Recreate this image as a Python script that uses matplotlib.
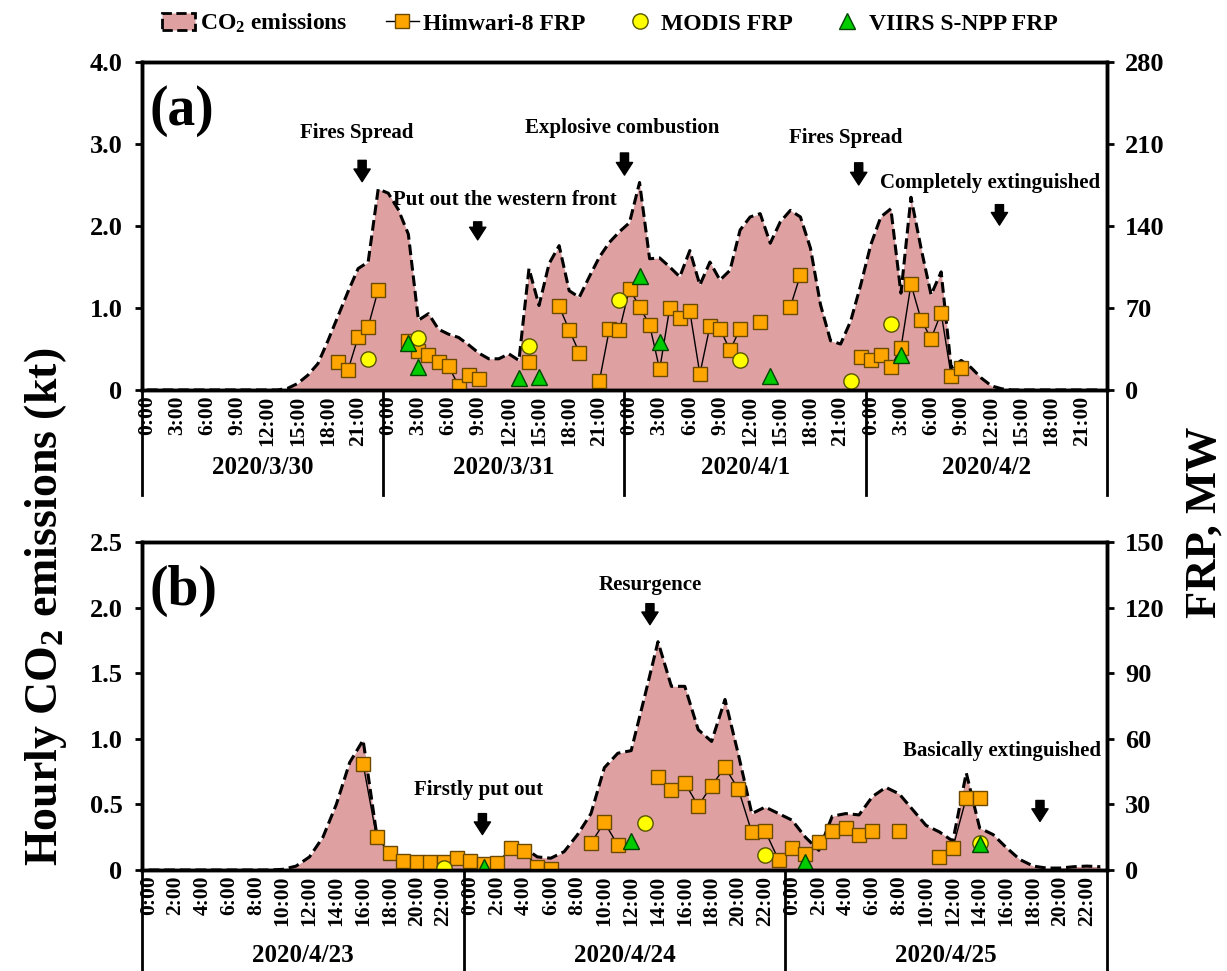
import numpy as np
import matplotlib.pyplot as plt
import matplotlib.transforms as mtransforms
from matplotlib.lines import Line2D
from matplotlib.patches import Patch

plt.rcParams['font.family'] = ['Liberation Serif', 'DejaVu Serif']
plt.rcParams['font.weight'] = 'bold'
plt.rcParams['mathtext.fontset'] = 'custom'
plt.rcParams['mathtext.rm'] = 'Liberation Serif:bold'
plt.rcParams['mathtext.bf'] = 'Liberation Serif:bold'
plt.rcParams['mathtext.default'] = 'bf'

# ---- panel (a): 2020/3/30 - 2020/4/2, hourly ----
dates_a = ['2020/3/30', '2020/3/31', '2020/4/1', '2020/4/2']
co2_a = [0, 0, 0, 0, 0, 0, 0, 0, 0, 0, 0, 0, 0, 0,
         0.02, 0.08, 0.18, 0.32, 0.6, 0.9, 1.2, 1.48, 1.56, 2.45,
         2.4, 2.2, 1.9, 0.85, 0.93, 0.74, 0.68, 0.64, 0.55, 0.45, 0.38, 0.38,
         0.44, 0.36, 1.48, 1.03, 1.54, 1.76, 1.21, 1.13, 1.38, 1.62, 1.8, 1.93,
         2.04, 2.53, 1.6, 1.61, 1.5, 1.38, 1.7, 1.28, 1.56, 1.34, 1.46, 1.95,
         2.11, 2.15, 1.79, 2.05, 2.19, 2.11, 1.73, 1.04, 0.6, 0.56, 0.84, 1.28,
         1.77, 2.11, 2.21, 1.18, 2.35, 1.73, 1.16, 1.44, 0.27, 0.36, 0.27, 0.145,
         0.05, 0.015, 0, 0, 0, 0, 0, 0, 0, 0, 0, 0]
him_a_hour = [19, 20, 21, 22, 23,
              26, 27, 28, 29, 30, 31, 32, 33,
              38,
              41, 42, 43,
              45, 46, 47, 48, 49, 50, 51, 52, 53, 54, 55, 56, 57, 58, 59,
              61,
              64, 65,
              71, 72, 73, 74, 75, 76, 77, 78, 79, 80, 81]
him_a_frp = [23.6, 17.1, 45, 54, 85.4,
             42.1, 33.6, 30.2, 24, 20.2, 3.7, 12.8, 9.4,
             23.6,
             71.4, 51.2, 31.9,
             7.4, 52, 51, 86.5, 71, 55.5, 17.5, 70, 61, 67.2, 13.6, 54.5, 52.2, 33.9, 52.2,
             57.6,
             70.9, 98.2,
             28.2, 25.4, 29.6, 19.8, 35.6, 90.3, 60.1, 43.8, 65.8, 12.1, 18.6]
modis_a_hour = [22, 27, 38, 47, 59, 70, 74]
modis_a_frp = [26.8, 44.5, 37.8, 77, 25.5, 7.5, 56]
viirs_a_hour = [26, 27, 37, 39, 49, 51, 62, 75]
viirs_a_frp = [40.5, 19.5, 9.8, 11.4, 97.5, 41, 11.6, 29.8]
notes_a = [('Fires Spread', 21.4, 3.13, 21.9, 2.8, 2.54),
           ('Put out the western front', 36.1, 2.32, 33.4, 2.05, 1.83),
           ('Explosive combustion', 47.8, 3.2, 48.0, 2.89, 2.62),
           ('Fires Spread', 70.0, 3.07, 71.3, 2.77, 2.5),
           ('Completely extinguished', 84.4, 2.52, 85.3, 2.26, 2.01)]

# ---- panel (b): 2020/4/23 - 2020/4/25, hourly ----
dates_b = ['2020/4/23', '2020/4/24', '2020/4/25']
co2_b = [0, 0, 0, 0, 0, 0, 0, 0, 0, 0,
         0.005, 0.03, 0.1, 0.25, 0.5, 0.82, 0.99, 0.28, 0.13, 0.09, 0.08, 0.08,
         0.08, 0.08, 0.07, 0.06, 0.07, 0.15, 0.17, 0.1, 0.09, 0.14, 0.27, 0.43,
         0.78, 0.89, 0.91, 1.32, 1.74, 1.4, 1.4, 1.07, 0.98, 1.3, 0.88, 0.43,
         0.48, 0.43, 0.38, 0.25, 0.15, 0.41, 0.43, 0.42, 0.56, 0.63, 0.58, 0.46,
         0.34, 0.29, 0.22, 0.74, 0.32, 0.27, 0.17, 0.08, 0.03, 0.015, 0.015,
         0.025, 0.03, 0.025]
him_b_hour = [16, 17, 18, 19, 20, 21, 22, 23, 24, 25, 26, 27, 28, 29, 30,
              33, 34, 35,
              38, 39, 40, 41, 42, 43, 44, 45, 46, 47, 48, 49, 50, 51, 52, 53, 54,
              56,
              59, 60, 61, 62]
him_b_frp = [48.5, 15.2, 7.6, 4.2, 3.6, 3.6, 3.8, 5.5, 4.0, 2.6, 3.0, 9.9, 8.8, 1.2, 0.5,
             12.3, 21.8, 11.4,
             42.7, 36.6, 39.9, 29.3, 38.6, 47, 36.9, 17.2, 17.8, 4.6, 10.2, 7.2, 12.9, 18, 19, 16, 18,
             18,
             6.0, 10.2, 33, 33]
modis_b_hour = [22, 37, 46, 62]
modis_b_frp = [1.0, 21.3, 6.9, 12.2]
viirs_b_hour = [25, 36, 49, 62]
viirs_b_frp = [1.5, 13.4, 3.8, 12.0]
notes_b = [('Firstly put out', 25.1, 0.61, 25.4, 0.43, 0.27),
           ('Resurgence', 37.9, 2.17, 37.9, 2.03, 1.87),
           ('Basically extinguished', 64.2, 0.91, 67.0, 0.53, 0.37)]

PINK = '#DFA0A2'
ORANGE = '#FFA500'
YELLOW = '#FFFF00'
GREEN = '#00CC00'


def sparse(n, hours, vals):
    arr = np.full(n, np.nan)
    arr[hours] = vals
    return arr


def draw_panel(ax, co2, dates, him_h, him_v, mod_h, mod_v, vii_h, vii_v,
               ymax, ystep, ylabels, frpmax, frpstep, hstep, notes, tag,
               sep_bottom, date_y):
    n = len(co2)
    x = np.arange(n) + 0.5
    ax.fill_between(x, co2, 0, color=PINK, lw=0)
    ax.plot(x, co2, color='k', lw=2.2, ls=(0, (3.5, 1.6)))
    ax.set_xlim(0, n)
    ax.set_ylim(0, ymax)
    ax.set_yticks(np.arange(0, ymax + 1e-9, ystep))
    ax.set_yticklabels(ylabels)

    ax2 = ax.twinx()
    ax2.plot(x, sparse(n, him_h, him_v), color='k', lw=1, marker='s', ms=10,
             mfc=ORANGE, mec='#6B4A00', mew=1)
    ax2.plot(x, sparse(n, mod_h, mod_v), ls='none', marker='o', ms=11,
             mfc=YELLOW, mec='#555500', mew=1)
    ax2.plot(x, sparse(n, vii_h, vii_v), ls='none', marker='^', ms=11,
             mfc=GREEN, mec='#004400', mew=1)
    ax2.set_ylim(0, frpmax)
    ax2.set_yticks(np.arange(0, frpmax + 1, frpstep))

    ticks = [d * 24 + h + 0.5 for d in range(len(dates)) for h in range(0, 24, hstep)]
    labs = ['%d:00' % h for d in range(len(dates)) for h in range(0, 24, hstep)]
    ax.set_xticks(ticks)
    ax.set_xticklabels(labs, rotation=90, fontsize=15.5)
    ax.tick_params(axis='x', length=0, pad=4)
    ax.tick_params(axis='y', direction='out', length=5, width=2, labelsize=19, pad=9)
    ax2.tick_params(axis='y', direction='out', length=5, width=2, labelsize=19, pad=8)
    for a in (ax, ax2):
        for s in a.spines.values():
            s.set_linewidth(2.5)

    trans = mtransforms.blended_transform_factory(ax.transData, ax.transAxes)
    for d in range(len(dates) + 1):
        ax.plot([24 * d, 24 * d], [0, sep_bottom], color='k', lw=2,
                transform=trans, clip_on=False)
    for d, lab in enumerate(dates):
        ax.text(24 * d + 12, date_y, lab, transform=trans, ha='center',
                va='center', fontsize=18)

    for text, tx, ty, axx, tail, tip in notes:
        ax.text(tx, ty, text, ha='center', va='center', fontsize=15)
        ax.annotate('', xy=(axx, tip), xytext=(axx, tail),
                    arrowprops=dict(arrowstyle='simple,head_length=0.7,head_width=0.9,tail_width=0.45',
                                    fc='k', ec='k', shrinkA=0, shrinkB=0, mutation_scale=13))
    ax.text(0.008, 0.85, tag, transform=ax.transAxes, ha='left', va='center', fontsize=40)
    return ax2


fig = plt.figure(figsize=(12.27, 9.71), dpi=100)
ax_a = fig.add_axes([0.1157, 0.5984, 0.7865, 0.3378])
ax_b = fig.add_axes([0.1157, 0.1040, 0.7865, 0.3378])

draw_panel(ax_a, co2_a, dates_a, him_a_hour, him_a_frp, modis_a_hour, modis_a_frp,
           viirs_a_hour, viirs_a_frp, 4.0, 1.0, ['0', '1.0', '2.0', '3.0', '4.0'],
           280, 70, 3, notes_a, '(a)', -0.32, -0.235)
draw_panel(ax_b, co2_b, dates_b, him_b_hour, him_b_frp, modis_b_hour, modis_b_frp,
           viirs_b_hour, viirs_b_frp, 2.5, 0.5, ['0', '0.5', '1.0', '1.5', '2.0', '2.5'],
           150, 30, 2, notes_b, '(b)', -0.32, -0.262)

handles = [Patch(facecolor=PINK, edgecolor='k', linestyle='--', linewidth=2),
           Line2D([0], [0], color='k', lw=1, marker='s', ms=10, mfc=ORANGE, mec='#6B4A00'),
           Line2D([0], [0], ls='none', marker='o', ms=11, mfc=YELLOW, mec='#555500'),
           Line2D([0], [0], ls='none', marker='^', ms=11, mfc=GREEN, mec='#004400')]
labels = ['CO$_2$ emissions', 'Himwari-8 FRP', 'MODIS FRP', 'VIIRS S-NPP FRP']
fig.legend(handles, labels, loc='upper center', bbox_to_anchor=(0.497, 1.01), ncol=4,
           frameon=False, fontsize=17, handlelength=1.4, handletextpad=0.2,
           columnspacing=1.6)

fig.text(0.037, 0.375, 'Hourly CO$_2$ emissions (kt)', rotation=90, fontsize=33,
         ha='center', va='center')
fig.text(0.982, 0.462, 'FRP, MW', rotation=90, fontsize=32, ha='center', va='center')

fig.savefig('out.png', dpi=100)
